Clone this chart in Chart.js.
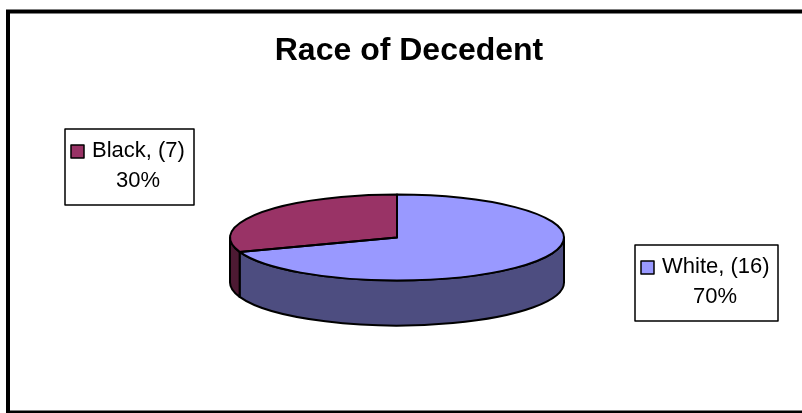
<!DOCTYPE html>
<html>
<head>
<meta charset="utf-8">
<title>Race of Decedent</title>
<script src="https://cdn.jsdelivr.net/npm/chart.js@4/dist/chart.umd.js"></script>
<style>
  html, body { margin: 0; padding: 0; background: #fff; }
  #chart { display: block; }
</style>
</head>
<body>
<canvas id="chart" width="802" height="413"></canvas>
<script>
const categories = ['White', 'Black'];
const counts = [16, 7];
const sliceColors = ['#9999FF', '#993366'];
const sideColors = ['#4D4D80', '#4D1A33'];
const chartTitle = 'Race of Decedent';

// where the tilted pie sits on the page
const tilt = { x: 397, y: 237.5, radius: 167, squash: 43 / 167, depth: 45 };
const labelBoxes = [
  { x: 635, y: 245, w: 143, h: 76 },
  { x: 65, y: 129, w: 129, h: 76 },
];

const total = counts.reduce((a, b) => a + b, 0);

const pie3d = {
  id: 'pie3d',
  beforeDatasetsDraw(chart) {
    const ctx = chart.ctx;
    const arcs = chart.getDatasetMeta(0).data;
    const r = arcs[0].outerRadius;

    // frame: no right side in the original
    ctx.save();
    ctx.strokeStyle = '#000';
    ctx.lineWidth = 4;
    ctx.beginPath();
    ctx.moveTo(802, 11.5);
    ctx.lineTo(8, 11.5);
    ctx.lineTo(8, 412.5);
    ctx.lineTo(802, 412.5);
    ctx.stroke();
    ctx.restore();

    // side wall, only the front half of the rim is visible
    arcs.forEach((arc, i) => {
      const from = Math.max(arc.startAngle, 0);
      const to = Math.min(arc.endAngle, Math.PI);
      if (to <= from) return;
      const a0 = tilt.x + r * Math.cos(from);
      const b0 = tilt.y + r * tilt.squash * Math.sin(from);
      const a1 = tilt.x + r * Math.cos(to);
      const b1 = tilt.y + r * tilt.squash * Math.sin(to);
      ctx.save();
      ctx.beginPath();
      ctx.ellipse(tilt.x, tilt.y, r, r * tilt.squash, 0, from, to);
      ctx.lineTo(a1, b1 + tilt.depth);
      ctx.ellipse(tilt.x, tilt.y + tilt.depth, r, r * tilt.squash, 0, to, from, true);
      ctx.lineTo(a0, b0);
      ctx.closePath();
      ctx.fillStyle = sideColors[i];
      ctx.fill();
      ctx.strokeStyle = '#000';
      ctx.lineWidth = 2;
      ctx.lineJoin = 'round';
      ctx.stroke();
      ctx.restore();
    });

    // flatten the top face
    ctx.save();
    ctx.translate(tilt.x, tilt.y);
    ctx.scale(1, tilt.squash);
    ctx.translate(-arcs[0].x, -arcs[0].y);
  },
  afterDatasetsDraw(chart) {
    const ctx = chart.ctx;
    const arcs = chart.getDatasetMeta(0).data;
    ctx.restore();

    // slice outlines at even width
    arcs.forEach((arc) => {
      ctx.save();
      ctx.translate(tilt.x, tilt.y);
      ctx.scale(1, tilt.squash);
      ctx.beginPath();
      ctx.moveTo(0, 0);
      ctx.arc(0, 0, arc.outerRadius, arc.startAngle, arc.endAngle);
      ctx.closePath();
      ctx.restore();
      ctx.strokeStyle = '#000';
      ctx.lineWidth = 2;
      ctx.lineJoin = 'round';
      ctx.stroke();
    });

    // data labels
    labelBoxes.forEach((box, i) => {
      ctx.save();
      ctx.fillStyle = '#fff';
      ctx.strokeStyle = '#000';
      ctx.lineWidth = 1.5;
      ctx.fillRect(box.x, box.y, box.w, box.h);
      ctx.strokeRect(box.x, box.y, box.w, box.h);
      ctx.fillStyle = sliceColors[i];
      ctx.fillRect(box.x + 6, box.y + 16, 13, 13);
      ctx.strokeRect(box.x + 6, box.y + 16, 13, 13);
      ctx.fillStyle = '#000';
      ctx.font = '22px "Liberation Sans", Arial, sans-serif';
      ctx.textBaseline = 'alphabetic';
      ctx.textAlign = 'left';
      ctx.fillText(categories[i] + ', (' + counts[i] + ')', box.x + 27, box.y + 28);
      ctx.textAlign = 'center';
      ctx.fillText(Math.round(counts[i] / total * 100) + '%', box.x + box.w / 2 + 8.5, box.y + 58);
      ctx.restore();
    });
  },
};

new Chart(document.getElementById('chart'), {
  type: 'pie',
  data: {
    labels: categories,
    datasets: [{
      data: counts,
      backgroundColor: sliceColors,
      borderWidth: 0,
      radius: tilt.radius,
    }],
  },
  options: {
    responsive: false,
    animation: false,
    // left padding pushes the title to the right, as in the picture
    layout: { padding: { left: 16, top: 32 } },
    plugins: {
      legend: { display: false },
      tooltip: { enabled: false },
      title: {
        display: true,
        text: chartTitle,
        color: '#000',
        font: { family: '"Liberation Sans", Arial, sans-serif', size: 32, weight: 'bold' },
        padding: 0,
      },
    },
  },
  plugins: [pie3d],
});
</script>
</body>
</html>
